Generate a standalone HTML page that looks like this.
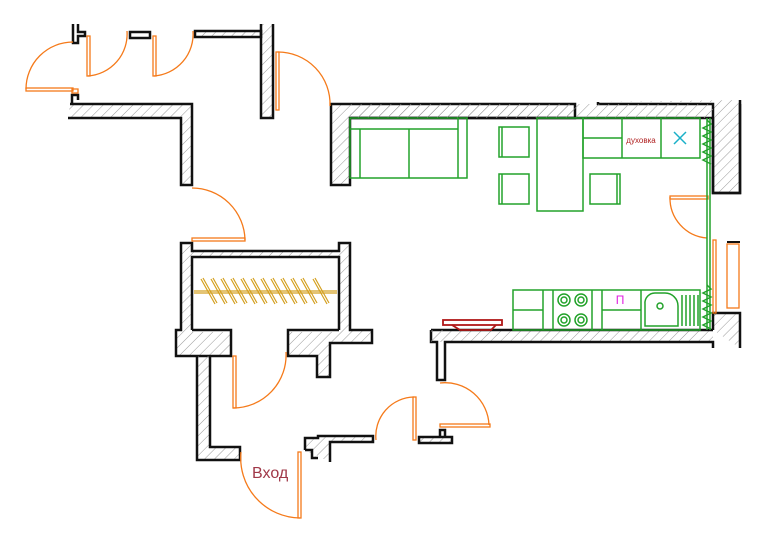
<!DOCTYPE html>
<html><head><meta charset="utf-8"><style>html,body{margin:0;padding:0;background:#fff}svg{display:block}</style></head><body>
<svg width="770" height="546" viewBox="0 0 770 546" xmlns="http://www.w3.org/2000/svg">
<defs>
<pattern id="h" width="7" height="7" patternUnits="userSpaceOnUse" patternTransform="rotate(45)">
<line x1="0" y1="0" x2="0" y2="7" stroke="#999" stroke-width="1"/>
</pattern>
</defs>
<g stroke="#111" stroke-width="2.5" fill="url(#h)">
<path d="M73 24 V43 H78 V36 H85 V32 H78 V24" fill="none"/>
<path d="M72 105 V95 H78 V100" fill="none"/>
<rect x="130" y="32" width="20" height="6" fill="#fff"/>
<rect x="195" y="31" width="66" height="6"/>
<path d="M261 24 V118 H273 V24" />
<path d="M70 104 H192 V185 H181 V118 H68" />
<path d="M331 104 H575 V118 H350 V185 H331 Z" />
<path d="M598 102 H713 V193 H740 V100" fill="url(#h)" stroke="none"/>
<path d="M598 102 V104 H713 V193 H740 V104 M713 118 H350" fill="none"/>
<rect x="350" y="104" width="363" height="14" stroke="none"/>
<path d="M740 100 V193 H713 V118" fill="none"/>
<path d="M713 330 V313 H740 V348" fill="url(#h)"/>
<rect x="445" y="330" width="268" height="12" stroke="none"/>
<path d="M431 330 H713 M431 330 V342 H437 V380 H445 V342 H713 V348" fill="none"/>
<rect x="431" y="330" width="14" height="12" stroke="none"/>
<path d="M181 243 H192 V251 H339 V243 H350 V330 H372 V343 H330 V377 H317 V356 H288 V330 H231 V356 H176 V330 H181 Z"/>
<rect x="192" y="257" width="147" height="75" fill="#fff" stroke="none"/>
<path d="M192 330 V257 H339 V330 M192 330 H231 V332 M288 332 V330 H339" fill="none"/>
<path d="M197 356 V460 H240 V447 H210 V356" />
<path d="M305 450 V438 H318 V436 H373 V442 H330 V462 M305 450 H312 V458 H318" fill="url(#h)"/>
<path d="M419 437 H452 V443 H419 Z M440 437 V430 H445 V437"/>
</g>
<g stroke="#d4a020" stroke-width="1.2" fill="none">
<line x1="194" y1="291" x2="337" y2="291"/><line x1="194" y1="293" x2="337" y2="293"/>
<g id="s"><path d="M201 279 L215 304 M203 278 L217 303"/></g>
<use href="#s" x="10"/><use href="#s" x="20"/><use href="#s" x="30"/><use href="#s" x="40"/><use href="#s" x="50"/><use href="#s" x="60"/><use href="#s" x="70"/><use href="#s" x="80"/><use href="#s" x="90"/><use href="#s" x="100"/><use href="#s" x="112"/>
</g>
<g stroke="#f57a1a" stroke-width="1.3" fill="none">
<path d="M26 89 A47 47 0 0 1 73 42"/><rect x="26" y="88" width="47" height="3"/><rect x="72" y="89" width="6" height="4"/>
<path d="M88 76 A42 42 0 0 0 127 31"/><rect x="87" y="36" width="3" height="40"/>
<path d="M154 76 A42 42 0 0 0 193 31"/><rect x="153" y="36" width="3" height="40"/>
<path d="M278 52 A52 52 0 0 1 330 106"/><rect x="276" y="52" width="3" height="58"/>
<path d="M192 188 A53 53 0 0 1 245 240"/><rect x="192" y="238" width="53" height="3"/>
<path d="M670 197 A40 40 0 0 0 707 238"/><rect x="670" y="196" width="38" height="3"/>
<rect x="713" y="240" width="3" height="73"/><rect x="727" y="244" width="12" height="64"/>
<path d="M233 408 A53 53 0 0 0 286 352"/><rect x="233" y="356" width="3" height="52"/>
<path d="M241 452 A60 60 0 0 0 300 518"/><rect x="298" y="452" width="3" height="66"/>
<path d="M376 440 A39 39 0 0 1 414 397"/><rect x="413" y="397" width="3" height="43"/>
<path d="M440 383 A44 44 0 0 1 489 425"/><rect x="440" y="424" width="50" height="3"/>
</g>
<line x1="727" y1="242" x2="740" y2="242" stroke="#111" stroke-width="2"/>
<g stroke="#22a22a" stroke-width="1.5" fill="none">
<rect x="350" y="118" width="117" height="60"/><line x1="350" y1="129" x2="458" y2="129"/><line x1="360" y1="129" x2="360" y2="178"/><line x1="409" y1="129" x2="409" y2="178"/><line x1="458" y1="118" x2="458" y2="178"/>
<rect x="499" y="127" width="30" height="30"/><line x1="502" y1="127" x2="502" y2="157"/>
<rect x="499" y="174" width="30" height="30"/><line x1="502" y1="174" x2="502" y2="204"/>
<rect x="590" y="174" width="30" height="30"/><line x1="617" y1="174" x2="617" y2="204"/>
<rect x="537" y="118" width="46" height="93"/>
<rect x="583" y="118" width="117" height="40"/><line x1="583" y1="138" x2="622" y2="138"/><line x1="622" y1="118" x2="622" y2="158"/><line x1="661" y1="118" x2="661" y2="158"/>
<line x1="707" y1="118" x2="707" y2="330"/><line x1="710" y1="118" x2="710" y2="330"/>
<path d="M707 120 l4 4 -8 4 8 4 -8 4 8 4 -8 4 8 4 -8 4 8 4 -8 4 8 4 M707 285 l4 4 -8 4 8 4 -8 4 8 4 -8 4 8 4 -8 4 8 4 -8 4 8 4"/>
<rect x="513" y="290" width="187" height="40"/><line x1="513" y1="310" x2="543" y2="310"/><line x1="602" y1="310" x2="641" y2="310"/>
<line x1="543" y1="290" x2="543" y2="330"/><line x1="553" y1="290" x2="553" y2="330"/><line x1="592" y1="290" x2="592" y2="330"/><line x1="602" y1="290" x2="602" y2="330"/><line x1="641" y1="290" x2="641" y2="330"/>
<circle cx="564" cy="300" r="6"/><circle cx="564" cy="300" r="3"/><circle cx="581" cy="300" r="6"/><circle cx="581" cy="300" r="3"/>
<circle cx="564" cy="320" r="6"/><circle cx="564" cy="320" r="3"/><circle cx="581" cy="320" r="6"/><circle cx="581" cy="320" r="3"/>
<path d="M645 326 V304 A10 10 0 0 1 655 293 H665 A13 13 0 0 1 678 306 V326 Z"/><circle cx="660" cy="306" r="3"/>
<path d="M682 295 V326 M686 295 V326 M690 295 V326 M694 295 V326 M698 295 V326"/>
</g>
<path d="M674 132 L686 144 M686 132 L674 144" stroke="#1ab0c8" stroke-width="1.5"/>
<text x="641" y="143" font-family="Liberation Sans, sans-serif" font-size="8" fill="#b02020" text-anchor="middle">духовка</text>
<text x="620" y="304" font-family="Liberation Sans, sans-serif" font-size="12" fill="#e020e0" text-anchor="middle">П</text>
<g stroke="#b01818" stroke-width="1.8" fill="none"><rect x="443" y="320" width="59" height="5"/><path d="M452 325 L460 330 H491 L496 325"/></g>
<text x="252" y="478" font-family="Liberation Sans, sans-serif" font-size="16" fill="#a03848">Вход</text>
</svg>
</body></html>
